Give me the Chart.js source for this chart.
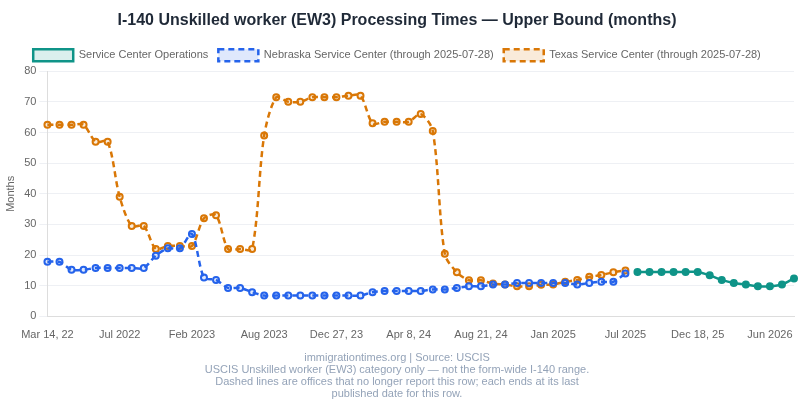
<!DOCTYPE html>
<html>
<head>
<meta charset="utf-8">
<script src="https://cdn.jsdelivr.net/npm/chart.js@4.4.1/dist/chart.umd.min.js"></script>
<style>
  html, body { margin: 0; padding: 0; background: #fff; }
  #wrap { width: 800px; height: 400px; }
</style>
</head>
<body>
<div id="wrap"><canvas id="ew3Chart"></canvas></div>
<script>
const labels = [
  "Mar 14, 22", "Apr 2022", "Apr 26, 22", "May 2022", "Jun 2022", "Jun 28, 22",
  "Jul 2022", "Aug 2022", "Sep 2022", "Oct 2022", "Nov 2022", "Dec 2022",
  "Feb 2023", "Mar 2023", "Apr 2023", "May 2023", "Jun 2023", "Jul 2023",
  "Aug 2023", "Sep 2023", "Oct 2023", "Nov 2023", "Dec 2023", "Dec 12, 23",
  "Dec 27, 23", "Jan 2024", "Jan 30, 24", "Feb 2024", "Mar 2024", "Mar 22, 24",
  "Apr 8, 24", "May 2024", "May 24, 24", "Jun 2024", "Jul 2024", "Aug 2024",
  "Aug 21, 24", "Sep 2024", "Oct 2024", "Nov 2024", "Nov 26, 24", "Dec 2024",
  "Jan 2025", "Feb 2025", "Mar 2025", "Apr 2025", "May 2025", "Jun 2025",
  "Jul 2025", "Aug 2025", "Sep 2025", "Oct 2025", "Nov 2025", "Dec 2025",
  "Dec 18, 25", "Jan 2026", "Feb 2026", "Mar 2026", "Apr 2026", "May 2026",
  "Jun 2026", "Jul 2026", "Aug 2026"
];

// offices that stopped reporting (end at Jul 2025)
const nebraska = [
  17.8, 17.8, 15.2, 15.2, 15.8, 15.8, 15.8, 15.8, 15.8, 19.8, 22.2, 22.2,
  26.9, 12.7, 11.9, 9.3, 9.3, 7.9, 6.8, 6.8, 6.8, 6.8, 6.8, 6.8,
  6.8, 6.8, 6.8, 7.9, 8.3, 8.3, 8.3, 8.3, 8.8, 8.8, 9.3, 9.8,
  9.8, 10.4, 10.4, 10.9, 10.9, 10.9, 10.9, 10.9, 10.4, 10.9, 11.3, 11.3,
  14.0
];
const texas = [
  62.5, 62.5, 62.5, 62.5, 57, 57, 39, 29.5, 29.5, 22, 23, 23,
  23, 32, 33, 22, 22, 22, 59, 71.5, 70, 70, 71.5, 71.5,
  71.5, 72, 72, 63, 63.5, 63.5, 63.5, 66, 60.5, 20.4, 14.4, 11.8,
  11.8, 10.7, 10.4, 9.8, 9.8, 10.3, 10.4, 11.3, 11.9, 12.9, 13.5, 14.4,
  15.0
];
// current row, starts Aug 2025
const scoStart = 49;
const serviceCenter = [
  14.5, 14.5, 14.5, 14.5, 14.5, 14.5, 13.4, 11.9, 10.9, 10.4, 9.8, 9.8,
  10.4, 12.4
];

const yTicks = { min: 0, max: 80, step: 10 };

const footerLines = [
  "immigrationtimes.org | Source: USCIS",
  "USCIS Unskilled worker (EW3) category only \u2014 not the form-wide I-140 range.",
  "Dashed lines are offices that no longer report this row; each ends at its last",
  "published date for this row."
];

function padTo(arr, start) {
  const out = new Array(labels.length).fill(null);
  arr.forEach((v, i) => { out[start + i] = v; });
  return out;
}

Chart.defaults.font.family = "'Liberation Sans', Arial, sans-serif";
Chart.defaults.color = "#6b6b6b";

const config = {
  type: "line",
  data: {
    labels: labels,
    datasets: [
      {
        label: "Service Center Operations",
        data: padTo(serviceCenter, scoStart),
        borderColor: "#0f9488",
        backgroundColor: "rgba(15,148,136,0.15)",
        borderWidth: 2.5,
        pointRadius: 3,
        pointBorderWidth: 2,
        pointBackgroundColor: "#0f9488",
        tension: 0.3,
      },
      {
        label: "Nebraska Service Center (through 2025-07-28)",
        data: padTo(nebraska, 0),
        borderColor: "#2563eb",
        backgroundColor: "rgba(37,99,235,0.15)",
        borderWidth: 2.5,
        borderDash: [6, 4],
        pointRadius: 3,
        pointBorderWidth: 2,
        tension: 0.3,
      },
      {
        label: "Texas Service Center (through 2025-07-28)",
        data: padTo(texas, 0),
        borderColor: "#d97706",
        backgroundColor: "rgba(217,119,6,0.15)",
        borderWidth: 2.5,
        borderDash: [6, 4],
        pointRadius: 3,
        pointBorderWidth: 2,
        tension: 0.3,
      },
    ],
  },
  options: {
    responsive: true,
    maintainAspectRatio: false,
    animation: false,
    layout: { padding: { left: 0, right: 6, top: 6, bottom: 0 } },
    scales: {
      x: {
        grid: { display: false },
        border: { color: "#ddd" },
        ticks: {
          autoSkip: false,
          maxRotation: 0,
          padding: 4,
          font: { size: 11 },
          color: "#666",
          callback: function (value, index) {
            return index % 6 === 0 ? labels[index] : "";
          },
        },
      },
      y: {
        min: yTicks.min,
        max: yTicks.max,
        grid: { color: "#eef0f4" },
        border: { color: "#ddd" },
        ticks: { stepSize: yTicks.step, font: { size: 11 }, color: "#666" },
        title: { display: true, text: "Months", font: { size: 11 }, color: "#666" },
      },
    },
    plugins: {
      title: {
        display: true,
        text: "I-140 Unskilled worker (EW3) Processing Times \u2014 Upper Bound (months)",
        font: { size: 16, weight: "bold" },
        color: "#1f2937",
        padding: { top: 5, bottom: 9 },
      },
      subtitle: {
        display: true,
        position: "bottom",
        text: footerLines,
        font: { size: 11, lineHeight: 1.1 },
        color: "#94a3b8",
        padding: { top: 6, bottom: 0 },
      },
      legend: {
        position: "top",
        labels: {
          boxWidth: 40,
          boxHeight: 12,
          font: { size: 11 },
          color: "#666",
          padding: 10,
        },
      },
    },
  },
};

new Chart(document.getElementById("ew3Chart"), config);
</script>
</body>
</html>
